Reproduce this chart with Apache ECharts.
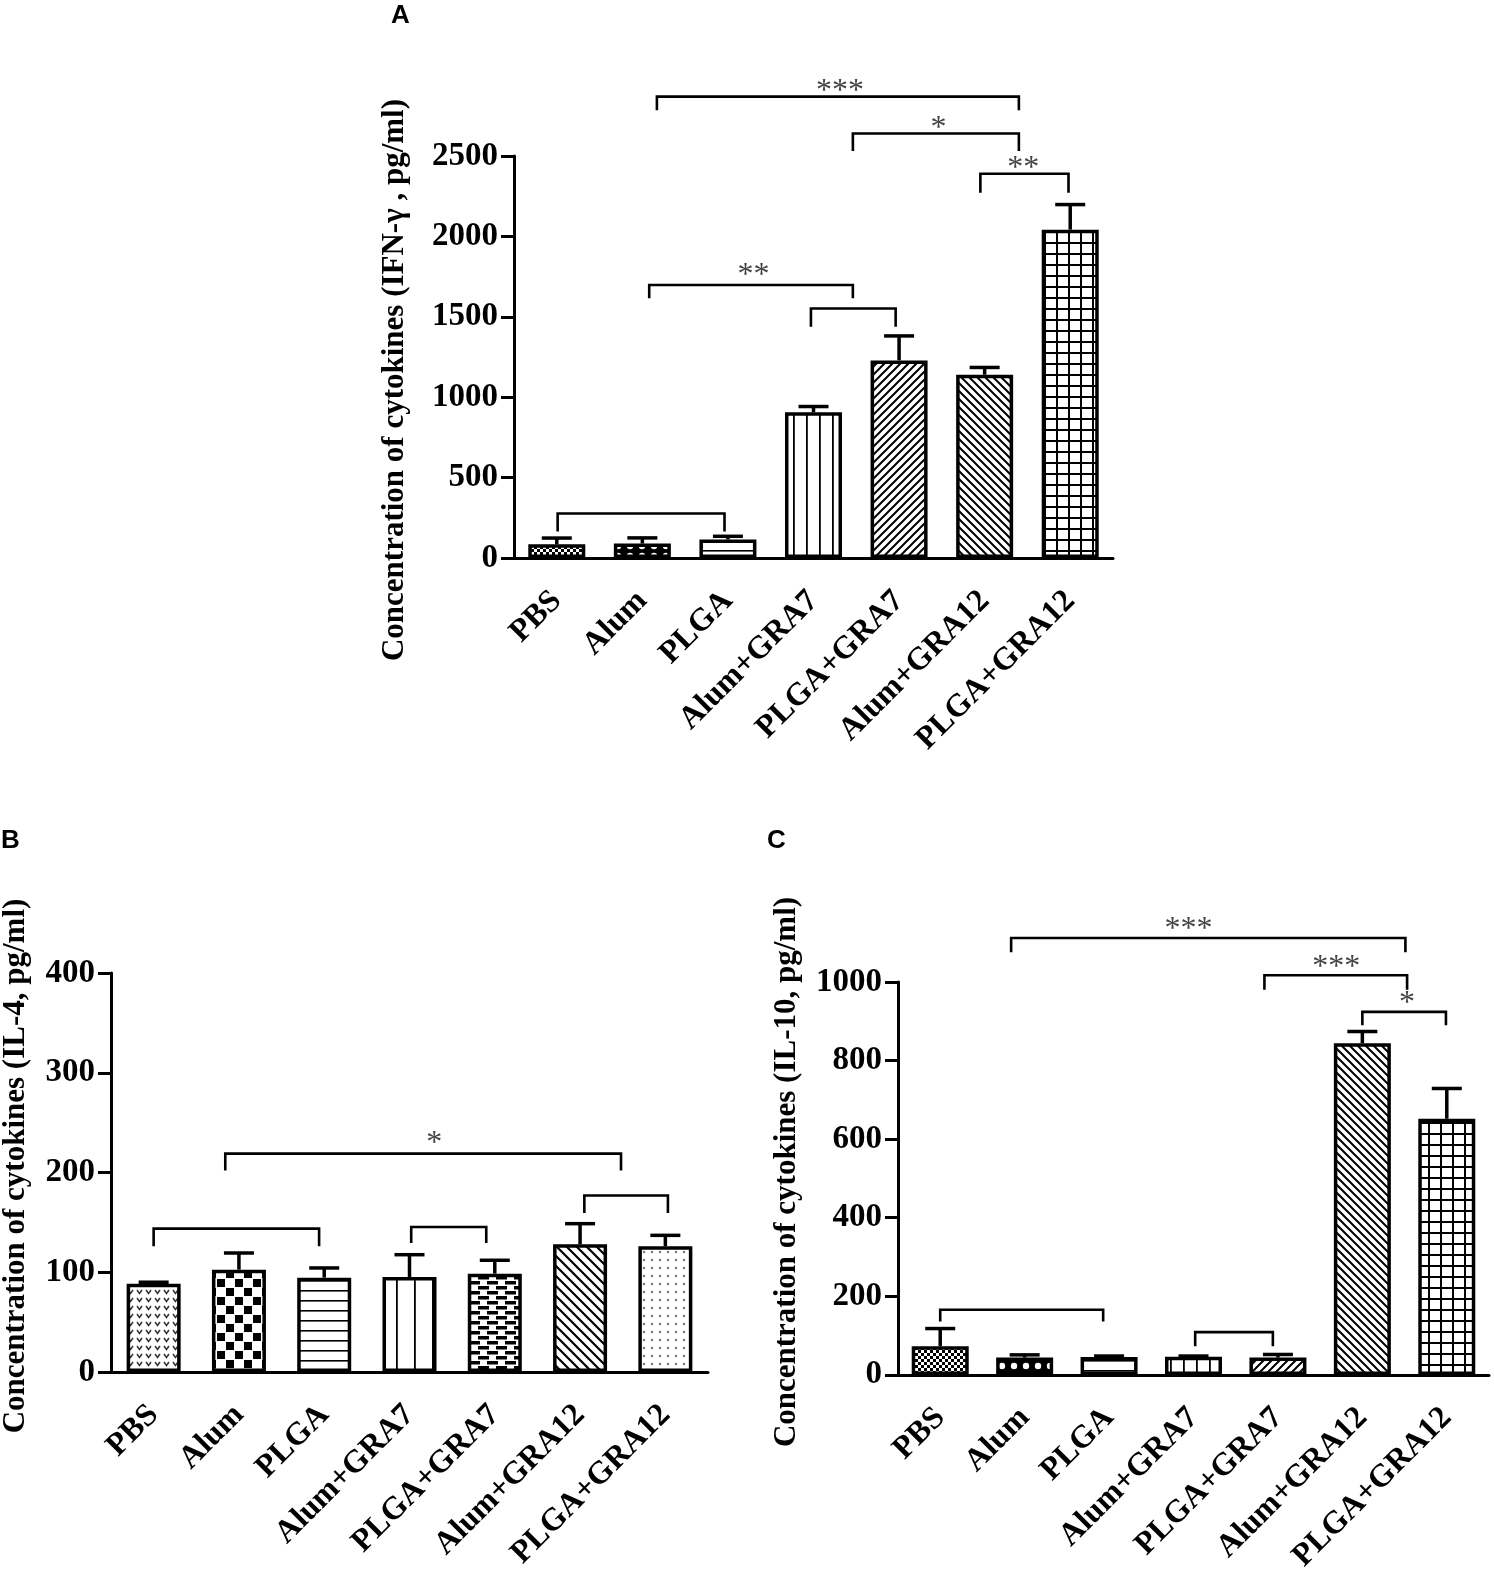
<!DOCTYPE html>
<html>
<head>
<meta charset="UTF-8">
<script src="https://cdn.jsdelivr.net/npm/echarts@6/dist/echarts.min.js"></script>
<style>
html, body { margin: 0; padding: 0; background: #fff; }
#main { width: 1494px; height: 1575px; }
</style>
</head>
<body>
<div id="main"></div>
<script>
// groups, same for all three panels
var groups = ['PBS', 'Alum', 'PLGA', 'Alum+GRA7', 'PLGA+GRA7', 'Alum+GRA12', 'PLGA+GRA12'];

// A: IFN-gamma
var ifnMean = [85, 90, 115, 906, 1229, 1140, 2042];
var ifnUpper = [124, 125, 135, 942, 1381, 1185, 2198];
// bracket: [fromIdx, toIdx, lineValue, dropValue]
var ifnBrackets = [[1.17, 5.40, 2869, 2785], [3.46, 5.40, 2640, 2531], [4.95, 5.98, 2390, 2271],
                   [1.08, 3.46, 1698, 1615], [2.97, 3.96, 1552, 1438], [0.01, 1.96, 277, 165]];
// star: [idx, value, text]
var ifnStars = [[3.31, 2945, '***'], [4.46, 2712, '*'], [5.45, 2463, '**'], [2.30, 1800, '**']];
var ifnTicks = [0, 500, 1000, 1500, 2000, 2500];

// B: IL-4
var il4Mean = [88.5, 102.6, 94.6, 95.2, 98.6, 128, 126];
var il4Upper = [90, 119.3, 104.3, 117.6, 112, 148.7, 137];
var il4Brackets = [[0.84, 5.48, 218.9, 202], [0, 1.94, 143.7, 126], [3.02, 3.9, 145.4, 129.3], [5.05, 6.03, 177, 159.4]];
var il4Stars = [[3.29, 235.6, '*']];
var il4Ticks = [0, 100, 200, 300, 400];

// C: IL-10
var il10Mean = [73, 44, 45.5, 46, 44, 844, 652];
var il10Upper = [118, 51, 48, 48, 52, 874, 729];
var il10Brackets = [[0.84, 5.51, 1112, 1076], [3.84, 5.53, 1017, 980], [5.0, 5.99, 924, 890],
                    [0, 1.93, 166, 136], [3.02, 3.94, 109, 73]];
var il10Stars = [[2.94, 1152, '***'], [4.69, 1055, '***'], [5.53, 964, '*']];
var il10Ticks = [0, 200, 400, 600, 800, 1000];

// ---- fill patterns ----
function pat(w, h, draw) {
    var c = document.createElement('canvas');
    c.width = w; c.height = h;
    var g = c.getContext('2d');
    g.fillStyle = '#fff'; g.fillRect(0, 0, w, h);
    g.fillStyle = '#000'; g.strokeStyle = '#000';
    draw(g, w, h);
    return { image: c, repeat: 'repeat' };
}
function diag(sz, up, lw) {
    return pat(sz, sz, function (g, w) {
        g.lineWidth = lw;
        g.beginPath();
        if (up) {
            g.moveTo(0, w); g.lineTo(w, 0);
            g.moveTo(-2, 2); g.lineTo(2, -2);
            g.moveTo(w - 2, w + 2); g.lineTo(w + 2, w - 2);
        } else {
            g.moveTo(0, 0); g.lineTo(w, w);
            g.moveTo(-2, w - 2); g.lineTo(2, w + 2);
            g.moveTo(w - 2, -2); g.lineTo(w + 2, 2);
        }
        g.stroke();
    });
}
var pSmallCheck = pat(6, 6, function (g) { g.fillRect(0, 0, 3, 3); g.fillRect(3, 3, 3, 3); });
var pWave = pat(12, 10, function (g) {
    g.fillRect(0, 0, 12, 10);
    g.fillStyle = '#fff';
    g.beginPath(); g.arc(6, 6, 3.2, 0, Math.PI * 2); g.fill();
});
var pHoriz = pat(2, 10, function (g) { g.fillRect(0, 0, 2, 1.6); });
var pVertA = pat(13, 2, function (g) { g.fillRect(0, 0, 1.8, 2); });
var pVertB = pat(18, 2, function (g) { g.fillRect(0, 0, 1.8, 2); });
var pFwd = diag(8, true, 2);
var pBack = diag(8, false, 2);
var pBackB = diag(10, false, 2.2);
var pGrid = pat(12, 11, function (g) { g.fillRect(0, 0, 2, 11); g.fillRect(0, 0, 12, 2); });
var pChevron = pat(9, 8, function (g) {
    g.strokeStyle = '#333'; g.lineWidth = 1.5;
    g.beginPath(); g.moveTo(2, 2); g.lineTo(4.5, 5.5); g.lineTo(7, 2); g.stroke();
});
var pChecker = pat(18, 18, function (g) { g.fillRect(1, 1, 8, 8); g.fillRect(10, 10, 8, 8); });
var pBrick = pat(18, 10, function (g) {
    g.fillRect(1, 1, 11, 3.5); g.fillRect(10, 6, 11, 3.5); g.fillRect(-8, 6, 11, 3.5);
});
var pDots = pat(8, 8, function (g) {
    g.fillStyle = '#777'; g.beginPath(); g.arc(4, 4, 1.2, 0, Math.PI * 2); g.fill();
});

var fillsA = [pSmallCheck, pWave, pHoriz, pVertA, pFwd, pBack, pGrid];
var fillsB = [pChevron, pChecker, pHoriz, pVertB, pBrick, pBackB, pDots];
var fillsC = [pSmallCheck, pWave, pHoriz, pVertA, pFwd, pBack, pGrid];

var SERIF = "'Liberation Serif', 'Times New Roman', serif";

function panel(k, mean, upper, brackets, stars, ticks, fills, barW) {
    var xAxis = {
        type: 'category', gridIndex: k, data: groups,
        axisLine: { lineStyle: { color: '#000', width: 3 } },
        axisTick: { alignWithLabel: true, length: 14, lineStyle: { color: '#000', width: 3 } },
        axisLabel: { interval: 0, rotate: 45, margin: 38, color: '#000', fontFamily: SERIF,
                     fontWeight: 'bold', fontSize: 32 }
    };
    var yAxis = {
        type: 'value', gridIndex: k, min: ticks[0], max: ticks[ticks.length - 1],
        interval: ticks[1] - ticks[0],
        splitLine: { show: false },
        axisLine: { show: true, lineStyle: { color: '#000', width: 3 } },
        axisTick: { show: true, length: 13, lineStyle: { color: '#000', width: 3 } },
        axisLabel: { margin: 16, color: '#000', fontFamily: SERIF, fontWeight: 'bold', fontSize: 33,
                     formatter: function (v) { return String(v); } }
    };
    var bars = {
        type: 'bar', xAxisIndex: k, yAxisIndex: k, barWidth: barW,
        data: mean.map(function (v, i) { return { value: v, itemStyle: { color: fills[i] } }; }),
        itemStyle: { borderColor: '#000', borderWidth: 3.5 },
        z: 3
    };
    var errs = {
        type: 'custom', xAxisIndex: k, yAxisIndex: k,
        data: mean.map(function (v, i) { return [i, v, upper[i]]; }),
        encode: { x: 0, y: [1, 2] },
        renderItem: function (params, api) {
            var p0 = api.coord([api.value(0), api.value(1)]);
            var p1 = api.coord([api.value(0), api.value(2)]);
            var st = { stroke: '#000', lineWidth: 3.5 };
            return { type: 'group', children: [
                { type: 'line', shape: { x1: p0[0], y1: p0[1], x2: p1[0], y2: p1[1] }, style: st },
                { type: 'line', shape: { x1: p1[0] - 15, y1: p1[1], x2: p1[0] + 15, y2: p1[1] }, style: st }
            ] };
        },
        z: 2
    };
    var brk = {
        type: 'custom', xAxisIndex: k, yAxisIndex: k, clip: false,
        data: brackets.map(function (b) { return [0, b[2]]; }),
        encode: { x: 0, y: 1 },
        renderItem: function (params, api) {
            var b = brackets[params.dataIndex];
            var x0 = api.coord([0, 0])[0], bw = api.size([1, 0])[0];
            var xa = x0 + b[0] * bw, xb = x0 + b[1] * bw;
            var yl = api.coord([0, b[2]])[1], yd = api.coord([0, b[3]])[1];
            return { type: 'polyline', shape: { points: [[xa, yd], [xa, yl], [xb, yl], [xb, yd]] },
                     style: { stroke: '#000', lineWidth: 2.6, fill: null } };
        },
        z: 4
    };
    var st = {
        type: 'custom', xAxisIndex: k, yAxisIndex: k, clip: false,
        data: stars.map(function (s) { return [0, s[1]]; }),
        encode: { x: 0, y: 1 },
        renderItem: function (params, api) {
            var s = stars[params.dataIndex];
            var x0 = api.coord([0, 0])[0], bw = api.size([1, 0])[0];
            var p = api.coord([0, s[1]]);
            return { type: 'text', style: { text: s[2], x: x0 + s[0] * bw, y: p[1] + 7,
                     align: 'center', verticalAlign: 'middle', fill: '#444',
                     font: '32px ' + SERIF } };
        },
        z: 4
    };
    return { xAxis: xAxis, yAxis: yAxis, series: [errs, bars, brk, st] };
}

var pA = panel(0, ifnMean, ifnUpper, ifnBrackets, ifnStars, ifnTicks, fillsA, 57);
var pB = panel(1, il4Mean, il4Upper, il4Brackets, il4Stars, il4Ticks, fillsB, 54);
var pC = panel(2, il10Mean, il10Upper, il10Brackets, il10Stars, il10Ticks, fillsC, 57);

function yName(text, x, y) {
    return { type: 'text', x: x, y: y, rotation: Math.PI / 2,
             style: { text: text, font: 'bold 31px ' + SERIF, fill: '#000',
                      align: 'center', verticalAlign: 'middle' } };
}
function letter(text, x, y) {
    return { type: 'text', left: x, top: y,
             style: { text: text, font: 'bold 26px "Liberation Sans", Arial, sans-serif', fill: '#000' } };
}

var myChart = echarts.init(document.getElementById('main'));
var option = {
    animation: false,
    backgroundColor: '#fff',
    grid: [
        { left: 514, top: 156, width: 599, height: 402 },
        { left: 111, top: 973, width: 597, height: 399 },
        { left: 898, top: 982, width: 591, height: 395 }
    ],
    xAxis: [pA.xAxis, pB.xAxis, pC.xAxis],
    yAxis: [pA.yAxis, pB.yAxis, pC.yAxis],
    series: pA.series.concat(pB.series, pC.series),
    graphic: [
        yName('Concentration of cytokines (IFN-\u03b3 , pg/ml)', 395, 380),
        yName('Concentration of cytokines (IL-4, pg/ml)', 16, 1166),
        yName('Concentration of cytokines (IL-10, pg/ml)', 787, 1172),
        letter('A', 391, 3),
        letter('B', 1, 828),
        letter('C', 767, 828)
    ]
};
myChart.setOption(option);
</script>
</body>
</html>
